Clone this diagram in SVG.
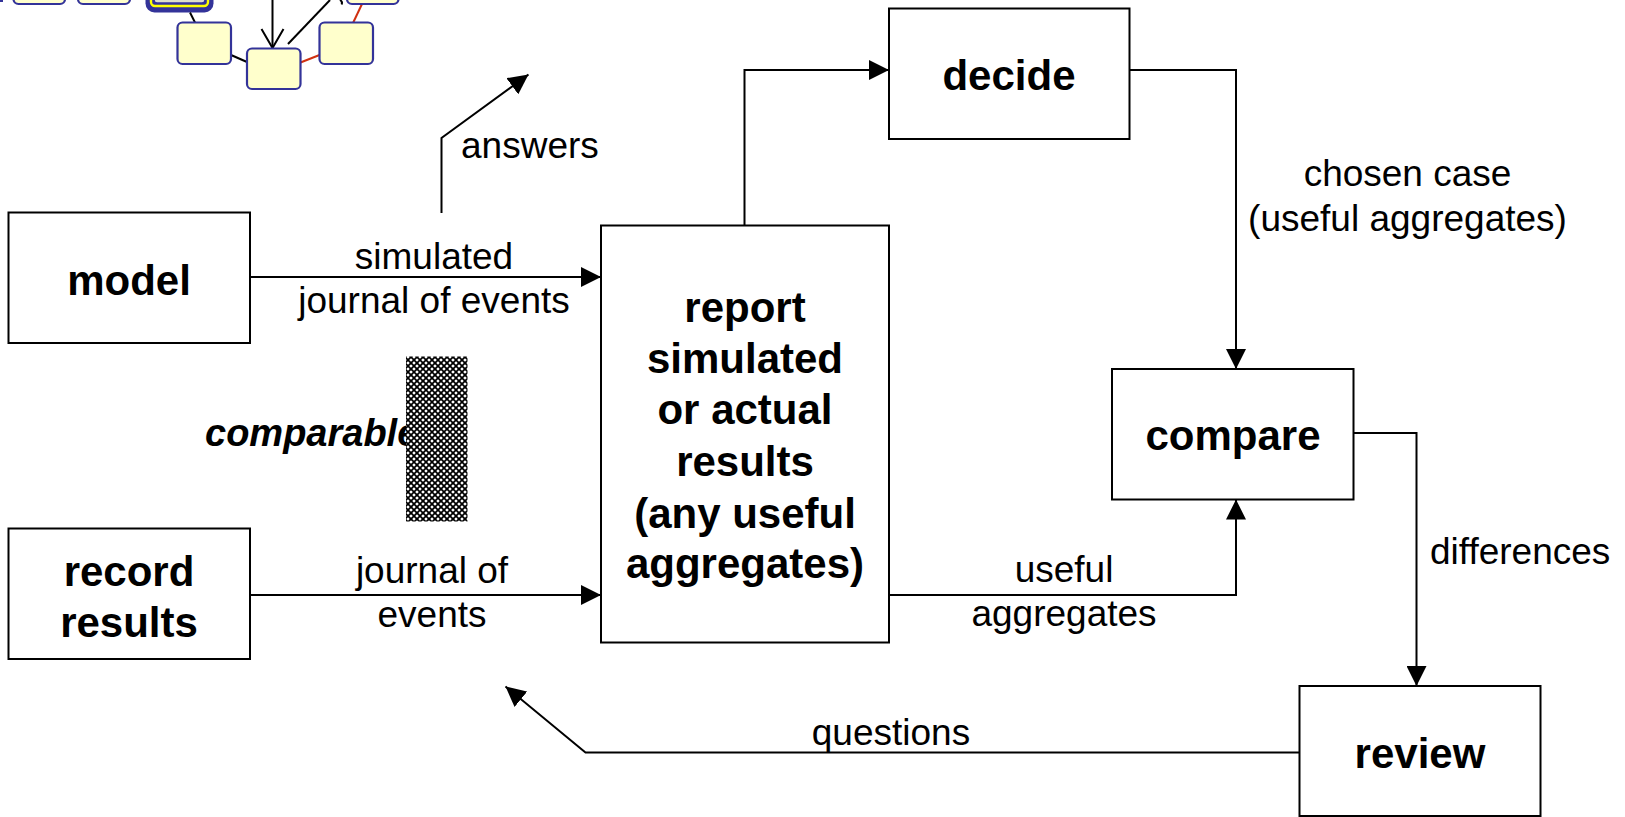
<svg xmlns="http://www.w3.org/2000/svg" width="1625" height="817" viewBox="0 0 1625 817">
  <style>
    .box { fill: #ffffff; stroke: #000000; stroke-width: 2; }
    .node { font-family: "Liberation Sans", Arial, sans-serif; font-weight: bold; font-size: 42px; fill: #000; text-anchor: middle; }
    .lbl { font-family: "Liberation Sans", Arial, sans-serif; font-size: 37px; fill: #000; }
    .mid { text-anchor: middle; }
    .wire { fill: none; stroke: #000; stroke-width: 2; marker-end: url(#arrow); }
    .gbox { fill: #ffffcc; stroke: #333399; stroke-width: 2.2; }
    .gline { stroke: #000; stroke-width: 2; fill: none; }
    .rline { stroke: #d03010; stroke-width: 2; fill: none; }
  </style>
  <defs>
    <marker id="arrow" markerUnits="userSpaceOnUse" markerWidth="20" markerHeight="20" refX="20" refY="10" orient="auto">
      <path d="M0,0 L20,10 L0,20 Z" fill="#000"/>
    </marker>
    <!-- diagonal cross-hatch fill -->
    <pattern id="hatch" patternUnits="userSpaceOnUse" width="6" height="6">
      <rect width="6" height="6" fill="#ffffff"/>
      <path d="M0,0 L6,6 M6,0 L0,6 M-1,5 L1,7 M5,-1 L7,1 M-1,1 L1,-1 M5,7 L7,5" stroke="#000000" stroke-width="1.7"/>
    </pattern>
  </defs>

  <!-- small process-graph thumbnail, top left -->
  <g id="thumbnail">
    <line x1="0" y1="1" x2="3" y2="1" stroke="#333399" stroke-width="2"/>
    <rect class="gbox" x="13.5" y="-30" width="51.5" height="34" rx="5"/>
    <rect class="gbox" x="78" y="-30" width="52" height="34" rx="5"/>
    <rect x="145.5" y="-30" width="68" height="42.5" rx="9" fill="#333399"/>
    <rect x="151" y="-30" width="57" height="36" rx="4" fill="none" stroke="#ffff00" stroke-width="2.4"/>
    <rect x="154" y="-30" width="51" height="33" rx="3" fill="#ddddcc" stroke="#333399" stroke-width="1.5"/>
    <line class="gline" x1="190" y1="12.5" x2="195" y2="22.5"/>
    <line class="gline" x1="231" y1="55" x2="247" y2="62"/>
    <line class="rline" x1="300.5" y1="62.5" x2="319.5" y2="55"/>
    <line class="rline" x1="362" y1="4" x2="353" y2="23"/>
    <line class="gline" x1="272.5" y1="0" x2="272.5" y2="48" stroke-width="2.5"/>
    <polyline class="gline" points="261.5,29 272.5,48 283.5,29" stroke-width="2.5"/>
    <line class="gline" x1="288" y1="44" x2="330" y2="0"/>
    <path class="gline" d="M340,0 Q343,2 341.5,4.5"/>
    <rect class="gbox" x="177.5" y="22.5" width="53.5" height="41.5" rx="5"/>
    <rect class="gbox" x="247" y="48.5" width="53.5" height="40.5" rx="5"/>
    <rect class="gbox" x="319.5" y="22.5" width="53.5" height="41.5" rx="5"/>
    <rect class="gbox" x="347" y="-30" width="51.5" height="34" rx="5"/>
  </g>

  <!-- connectors -->
  <g id="connectors">
    <path class="wire" d="M250,277 H601"/>
    <path class="wire" d="M250,595 H601"/>
    <path class="wire" d="M441.5,213 V138 L528.5,74.5"/>
    <path class="wire" d="M744.5,225 V70 H889"/>
    <path class="wire" d="M1129.5,70 H1236 V369"/>
    <path class="wire" d="M889,595 H1236 V499.5"/>
    <path class="wire" d="M1353.5,433 H1416.5 V686"/>
    <path class="wire" d="M1299.5,752.5 H585.5 L505.5,686.5"/>
  </g>

  <!-- connector labels -->
  <g id="labels">
    <text class="lbl" x="461" y="158">answers</text>
    <text class="lbl mid" x="434" y="269">simulated</text>
    <text class="lbl mid" x="434" y="313">journal of events</text>
    <text class="lbl mid" x="432" y="583">journal of</text>
    <text class="lbl mid" x="432" y="627">events</text>
    <text class="lbl mid" x="1407.5" y="186">chosen case</text>
    <text class="lbl mid" x="1407.5" y="230.5">(useful aggregates)</text>
    <text class="lbl mid" x="1064" y="581.5">useful</text>
    <text class="lbl mid" x="1064" y="625.5">aggregates</text>
    <text class="lbl" x="1430" y="564">differences</text>
    <text class="lbl mid" x="891" y="745">questions</text>
  </g>

  <g id="comparable">
    <text x="205" y="446" font-family="Liberation Sans, Arial, sans-serif" font-size="38" font-weight="bold" font-style="italic" fill="#000">comparable</text>
    <rect x="406" y="356.5" width="61.5" height="165" fill="url(#hatch)"/>
  </g>

  <g id="model">
    <rect class="box" x="8.5" y="212.5" width="241.5" height="130.5"/>
    <text class="node" x="129" y="295">model</text>
  </g>

  <g id="record-results">
    <rect class="box" x="8.5" y="528.5" width="241.5" height="130.5"/>
    <text class="node" x="129" y="586">record</text>
    <text class="node" x="129" y="637">results</text>
  </g>

  <g id="report">
    <rect class="box" x="601" y="225.5" width="288" height="417"/>
    <text class="node" x="745" y="322">report</text>
    <text class="node" x="745" y="373">simulated</text>
    <text class="node" x="745" y="424">or actual</text>
    <text class="node" x="745" y="476">results</text>
    <text class="node" x="745" y="527.5">(any useful</text>
    <text class="node" x="745" y="578">aggregates)</text>
  </g>

  <g id="decide">
    <rect class="box" x="889" y="8.5" width="240.5" height="130.5"/>
    <text class="node" x="1009" y="90">decide</text>
  </g>

  <g id="compare">
    <rect class="box" x="1112" y="369" width="241.5" height="130.5"/>
    <text class="node" x="1233" y="450">compare</text>
  </g>

  <g id="review">
    <rect class="box" x="1299.5" y="686" width="241" height="130"/>
    <text class="node" x="1420" y="768">review</text>
  </g>
</svg>
